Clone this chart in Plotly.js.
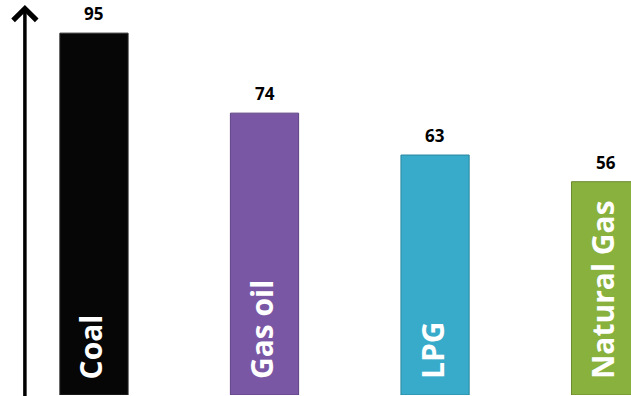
<!DOCTYPE html>
<html>
<head>
<meta charset="utf-8">
<script src="https://cdn.plot.ly/plotly-3.0.1.min.js"></script>
<style>
  html, body { margin: 0; padding: 0; background: #ffffff; }
  #chart { width: 631px; height: 396px; }
</style>
</head>
<body>
<div id="chart"></div>
<script>
// Fuel categories and their values
const categories = ['Coal', 'Gas oil', 'LPG', 'Natural Gas'];
const values = [95, 74, 63, 56];
const barColors = ['#060606', '#7A57A5', '#38ABCB', '#89B13D'];
const edgeColors = ['#2a2a2a', '#5e4283', '#2a869f', '#6a8a2e'];

const bar = {
  type: 'bar',
  x: categories.map((c, i) => i),
  y: values,
  width: 0.4,
  marker: {
    color: barColors,
    line: { color: edgeColors, width: 1 }
  },
  hoverinfo: 'skip'
};

const annotations = [];

// Value labels above each bar
values.forEach((v, i) => {
  annotations.push({
    x: i, y: v, xref: 'x', yref: 'y',
    text: '<b>' + v + '</b>',
    showarrow: false,
    xanchor: 'center', yanchor: 'bottom', yshift: 6,
    font: { family: 'Open Sans, sans-serif', size: 17, color: '#000000' }
  });
});

// Category names written upward inside each bar
categories.forEach((c, i) => {
  annotations.push({
    x: i, y: 0, xref: 'x', yref: 'y',
    text: '<b>' + c + '</b>',
    textangle: -90,
    showarrow: false,
    xanchor: 'center', yanchor: 'bottom', yshift: 14, xshift: -3,
    font: { family: 'Open Sans, sans-serif', size: 30, color: '#ffffff' }
  });
});

// Vertical axis drawn as an upward arrow
annotations.push({
  x: -0.405, y: 102.4, xref: 'x', yref: 'y',
  ax: -0.405, ay: -1, axref: 'x', ayref: 'y',
  text: '',
  showarrow: true,
  arrowhead: 4, arrowsize: 1.3, arrowwidth: 3.5,
  arrowcolor: '#000000'
});

const layout = {
  width: 631, height: 396,
  margin: { l: 0, r: 0, t: 0, b: 1 },
  paper_bgcolor: '#ffffff',
  plot_bgcolor: '#ffffff',
  showlegend: false,
  xaxis: {
    range: [-0.551, 3.149],
    showgrid: false, zeroline: false, showticklabels: false, ticks: '', showline: false
  },
  yaxis: {
    range: [0, 103.7],
    showgrid: false, zeroline: false, showticklabels: false, ticks: '', showline: false
  },
  annotations: annotations
};

Plotly.newPlot('chart', [bar], layout, { displayModeBar: false, staticPlot: true });
</script>
</body>
</html>
